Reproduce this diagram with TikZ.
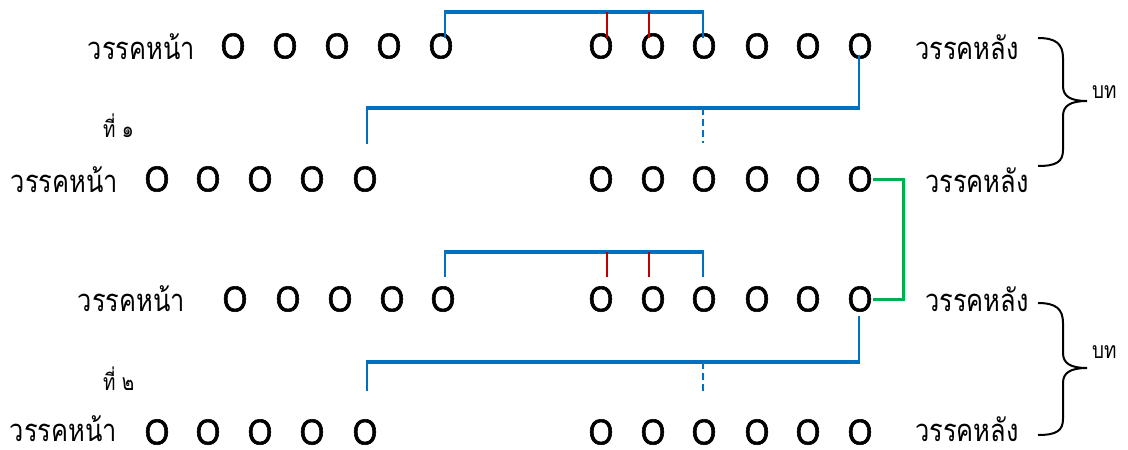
\documentclass[tikz,border=0pt]{standalone}
\usepackage{fontspec}
\newfontfamily\thaifont[Script=Thai,FakeStretch=0.82]{Loma}
\newfontfamily\sylfont[FakeStretch=0.88,FakeBold=1.6]{Liberation Sans}
\usetikzlibrary{calc}
\definecolor{blueC}{HTML}{0070C0}
\definecolor{redC}{HTML}{C00000}
\definecolor{greenC}{HTML}{00B050}
\begin{document}
\begin{tikzpicture}[x=1pt,y=-1pt,
  syl/.style={inner sep=0pt, font=\fontsize{36}{36}\selectfont\sylfont},
  lab/.style={inner sep=0pt, font=\fontsize{31}{33}\selectfont\thaifont},
  smalllab/.style={inner sep=0pt, font=\fontsize{23}{24}\selectfont\thaifont},
  bh/.style={line width=3.5pt, blueC},
  bv/.style={line width=2pt, blueC},
  dv/.style={line width=2pt, blueC, dash pattern=on 7pt off 4pt},
  rv/.style={line width=2pt, redC},
  gr/.style={line width=3pt, greenC},
  bracestyle/.style={line width=2pt, black},
]
\useasboundingbox (0,0) rectangle (1128,450);

% syllables
\foreach \x [count=\i] in {233,285,337,389,441} \node[syl] (a1\i) at (\x,46) {O};
\foreach \x [count=\i] in {601,653,704,757,808,860} \node[syl] (b1\i) at (\x,46) {O};
\foreach \x [count=\i] in {157,208,260,312,365} \node[syl] (a2\i) at (\x,179) {O};
\foreach \x [count=\i] in {601,653,704,757,808,860} \node[syl] (b2\i) at (\x,179) {O};
\foreach \x [count=\i] in {235,288,340,392,443} \node[syl] (a3\i) at (\x,299) {O};
\foreach \x [count=\i] in {601,653,704,757,808,860} \node[syl] (b3\i) at (\x,299) {O};
\foreach \x [count=\i] in {157,208,260,312,365} \node[syl] (a4\i) at (\x,432) {O};
\foreach \x [count=\i] in {601,653,704,757,808,860} \node[syl] (b4\i) at (\x,432) {O};

% labels
\node[lab, anchor=base east] (L1) at (195,59) {วรรคหน้า};
\node[lab, anchor=base east] (L2) at (118,192) {วรรคหน้า};
\node[lab, anchor=base east] (L3) at (185,311) {วรรคหน้า};
\node[lab, anchor=base east] (L4) at (117,441) {วรรคหน้า};
\node[lab, anchor=base west] (R1) at (915,59) {วรรคหลัง};
\node[lab, anchor=base west] (R2) at (925,192) {วรรคหลัง};
\node[lab, anchor=base west] (R3) at (925,311) {วรรคหลัง};
\node[lab, anchor=base west] (R4) at (915,441) {วรรคหลัง};
\node[smalllab, anchor=base west] (N1) at (103,137) {ที่ ๑};
\node[smalllab, anchor=base west] (N2) at (103,390) {ที่ ๒};
\node[smalllab, anchor=base west] (T1) at (1092,98) {บท};
\node[smalllab, anchor=base west] (T2) at (1092,358) {บท};

% row 1 internal rhyme
\coordinate (h1) at (0,12);
\coordinate (s1) at ($(a15.north)+(4,5)$);
\coordinate (e1) at ($(b13.north)+(-1,5)$);
\coordinate (r11) at ($(b11.north)+(6,5)$);
\coordinate (r12) at ($(b12.north)+(-4,5)$);
\draw[bh] ($(s1 |- h1)+(-1,0)$) -- ($(e1 |- h1)+(1,0)$);
\draw[bv] (s1) -- (s1 |- h1);
\draw[bv] (e1) -- (e1 |- h1);
\draw[rv] (r11) -- (r11 |- h1);
\draw[rv] (r12) -- (r12 |- h1);

% row 1 -> row 2
\coordinate (h2) at (0,108);
\coordinate (s2) at ($(b16.south)+(-1,-4)$);
\coordinate (e2) at ($(a25.north)+(2,-22)$);
\coordinate (d2) at ($(b23.north)+(-1,-23)$);
\draw[bh] ($(e2 |- h2)+(-1,0)$) -- ($(s2 |- h2)+(1,0)$);
\draw[bv] (s2) -- (s2 |- h2);
\draw[bv] (e2 |- h2) -- (e2);
\draw[dv] (d2 |- h2) -- (d2);

% green link
\coordinate (g) at (903,0);
\draw[gr] (b26.east) -- (b26.east -| g) -- (b36.east -| g) -- (b36.east);

% row 3 internal rhyme
\coordinate (h3) at (0,252);
\coordinate (s3) at ($(a35.north)+(2,-9)$);
\coordinate (e3) at ($(b33.north)+(-1,-9)$);
\coordinate (r31) at ($(b31.north)+(6,-9)$);
\coordinate (r32) at ($(b32.north)+(-4,-9)$);
\draw[bh] ($(s3 |- h3)+(-1,0)$) -- ($(e3 |- h3)+(1,0)$);
\draw[bv] (s3) -- (s3 |- h3);
\draw[bv] (e3) -- (e3 |- h3);
\draw[rv] (r31) -- (r31 |- h3);
\draw[rv] (r32) -- (r32 |- h3);

% row 3 -> row 4
\coordinate (h4) at (0,362);
\coordinate (s4) at ($(b36.south)+(-1,4)$);
\coordinate (e4) at ($(a45.north)+(2,-28)$);
\coordinate (d4) at ($(b43.north)+(-1,-28)$);
\draw[bh] ($(e4 |- h4)+(-1,0)$) -- ($(s4 |- h4)+(1,0)$);
\draw[bv] (s4) -- (s4 |- h4);
\draw[bv] (e4 |- h4) -- (e4);
\draw[dv] (d4 |- h4) -- (d4);

% braces
\draw[bracestyle] (1038,38) .. controls (1056,38) and (1063,44) .. (1063,58) -- (1063,86)
  .. controls (1063,96) and (1070,101) .. (1087,101)
  .. controls (1070,101) and (1063,106) .. (1063,116) -- (1063,150)
  .. controls (1063,162) and (1056,166) .. (1038,166);
\draw[bracestyle] (1038,303) .. controls (1056,303) and (1063,309) .. (1063,323) -- (1063,353)
  .. controls (1063,363) and (1070,368) .. (1087,368)
  .. controls (1070,368) and (1063,373) .. (1063,383) -- (1063,419)
  .. controls (1063,431) and (1056,435) .. (1038,435);
\end{tikzpicture}
\end{document}
